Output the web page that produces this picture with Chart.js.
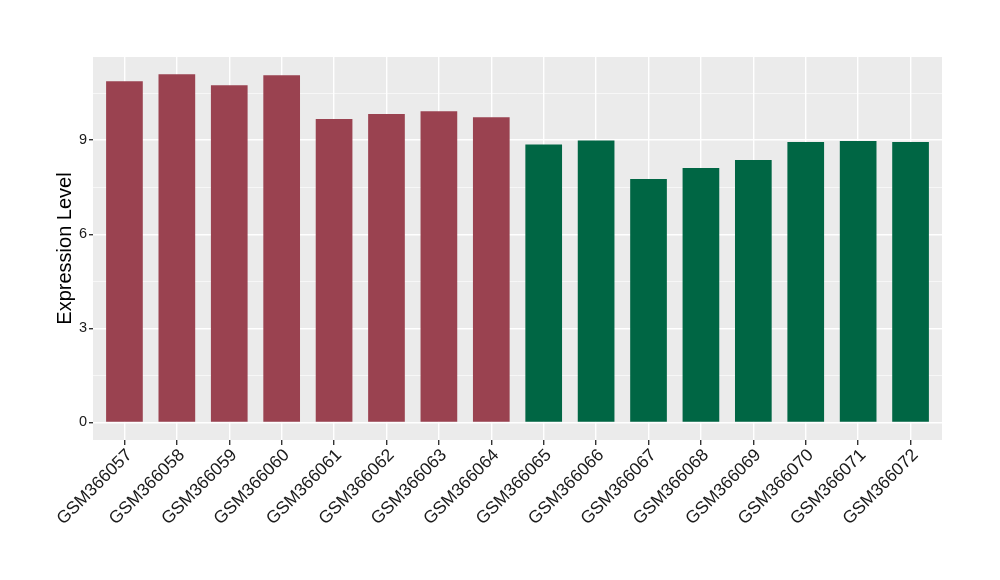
<!DOCTYPE html>
<html>
<head>
<meta charset="utf-8">
<script src="https://cdn.jsdelivr.net/npm/chart.js@4.4.0/dist/chart.umd.min.js"></script>
<style>
    html, body { margin: 0; padding: 0; background: #fff; }
    #wrap { width: 1000px; height: 580px; }
</style>
</head>
<body>
<div id="wrap"><canvas id="exprChart" width="1000" height="580"></canvas></div>
<script>
const samples = ['GSM366057', 'GSM366058', 'GSM366059', 'GSM366060', 'GSM366061', 'GSM366062', 'GSM366063', 'GSM366064',
    'GSM366065', 'GSM366066', 'GSM366067', 'GSM366068', 'GSM366069', 'GSM366070', 'GSM366071', 'GSM366072'];
const expression = [10.88, 11.10, 10.75, 11.07, 9.67, 9.83, 9.92, 9.73,
    8.86, 8.99, 7.76, 8.11, 8.37, 8.94, 8.97, 8.94];
const groups = ['A', 'A', 'A', 'A', 'A', 'A', 'A', 'A', 'B', 'B', 'B', 'B', 'B', 'B', 'B', 'B'];
const yTicks = [0, 1.5, 3, 4.5, 6, 7.5, 9, 10.5];
const yRange = [-0.56, 11.65];
const xRange = [-0.6, samples.length - 1 + 0.6];

const groupColors = { A: '#9A4250', B: '#006644' };
const fontFamily = '"Liberation Sans", Arial, sans-serif';

const panelBackground = {
    id: 'panelBackground',
    beforeDraw: chart => {
        const { ctx, chartArea } = chart;
        ctx.save();
        ctx.fillStyle = '#EBEBEB';
        ctx.fillRect(chartArea.left, chartArea.top, chartArea.right - chartArea.left, chartArea.bottom - chartArea.top);
        ctx.restore();
    }
};

const isMajor = v => Math.abs(v % 3) < 1e-9;

document.addEventListener('DOMContentLoaded', () => {
    const ctx = document.getElementById('exprChart').getContext('2d');

    new Chart(ctx, {
        type: 'bar',
        data: {
            datasets: [{
                data: expression.map((v, i) => ({ x: i, y: v })),
                backgroundColor: groups.map(g => groupColors[g]),
                barPercentage: 0.7,
                categoryPercentage: 1.0,
                borderWidth: 0
            }]
        },
        options: {
            responsive: false,
            animation: false,
            layout: {
                padding: { left: 53, right: 58, top: 57, bottom: 0 }
            },
            plugins: {
                legend: { display: false },
                tooltip: { enabled: false }
            },
            scales: {
                x: {
                    type: 'linear',
                    min: xRange[0],
                    max: xRange[1],
                    offset: false,
                    afterFit: scale => { scale.height = 140; },
                    afterBuildTicks: scale => {
                        scale.ticks = samples.map((s, i) => ({ value: i }));
                    },
                    grid: {
                        offset: false,
                        color: '#FFFFFF',
                        lineWidth: 1.4,
                        tickLength: 5,
                        tickColor: '#333333'
                    },
                    border: { display: false },
                    ticks: {
                        autoSkip: false,
                        minRotation: 45,
                        maxRotation: 45,
                        padding: 0,
                        labelOffset: 5,
                        color: '#1a1a1a',
                        font: { family: fontFamily, size: 17.5 },
                        callback: v => samples[v]
                    }
                },
                y: {
                    min: yRange[0],
                    max: yRange[1],
                    afterFit: scale => { scale.width = 40; },
                    afterBuildTicks: scale => {
                        scale.ticks = yTicks.map(v => ({ value: v }));
                    },
                    grid: {
                        color: '#FFFFFF',
                        lineWidth: c => isMajor(c.tick.value) ? 1.4 : 0.6,
                        tickLength: 4,
                        tickColor: c => isMajor(c.tick.value) ? '#333333' : 'rgba(0,0,0,0)'
                    },
                    border: { display: false },
                    ticks: {
                        padding: 2,
                        color: '#1a1a1a',
                        font: { family: fontFamily, size: 14.5 },
                        callback: v => isMajor(v) ? String(v) : ''
                    },
                    title: {
                        display: true,
                        text: 'Expression Level',
                        color: '#000000',
                        padding: 0,
                        font: { family: fontFamily, size: 20 }
                    }
                }
            }
        },
        plugins: [panelBackground]
    });
});
</script>
</body>
</html>
